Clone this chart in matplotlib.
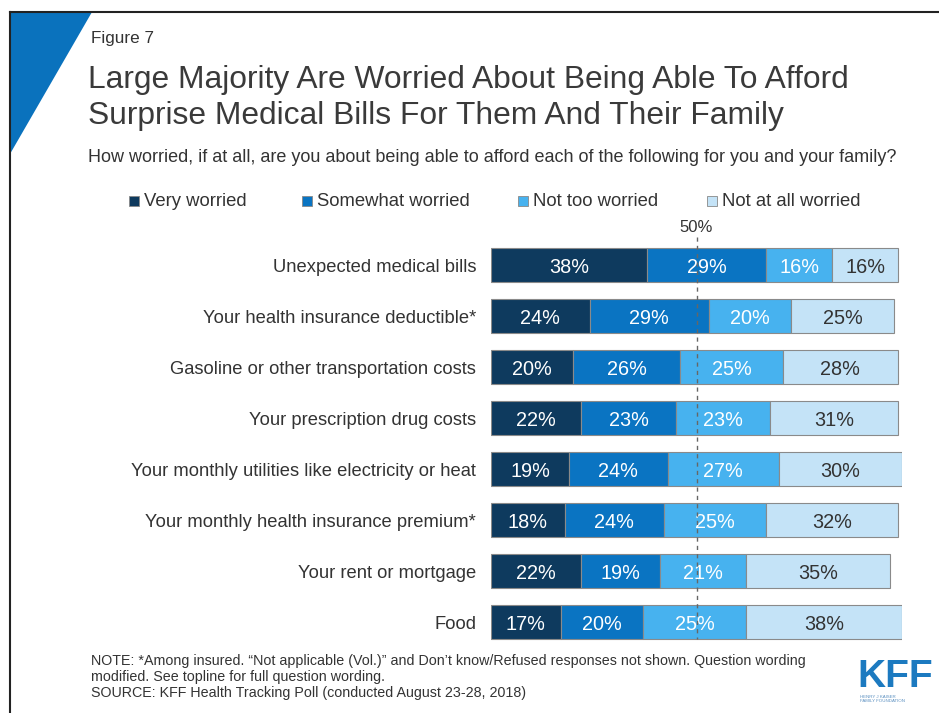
import matplotlib
matplotlib.use("Agg")
import matplotlib.pyplot as plt
from matplotlib.patches import Rectangle, Polygon
from matplotlib.lines import Line2D

plt.rcParams['font.family'] = ['Liberation Sans', 'DejaVu Sans']

categories = [
    "Unexpected medical bills",
    "Your health insurance deductible*",
    "Gasoline or other transportation costs",
    "Your prescription drug costs",
    "Your monthly utilities like electricity or heat",
    "Your monthly health insurance premium*",
    "Your rent or mortgage",
    "Food",
]
series_names = ["Very worried", "Somewhat worried", "Not too worried", "Not at all worried"]
very_worried = [38, 24, 20, 22, 19, 18, 22, 17]
somewhat_worried = [29, 29, 26, 23, 24, 24, 19, 20]
not_too_worried = [16, 20, 25, 23, 27, 25, 21, 25]
not_at_all_worried = [16, 25, 28, 31, 30, 32, 35, 38]
series_values = [very_worried, somewhat_worried, not_too_worried, not_at_all_worried]
colors = ["#0e3a5e", "#0a74c2", "#47b2ef", "#c4e3f7"]
label_colors = ["white", "white", "white", "#333333"]
reference_line = 50

W, H = 939, 713
fig = plt.figure(figsize=(W / 100, H / 100), dpi=100)

def fx(px):
    return px / W

def fy(py):
    return 1 - py / H

# frame lines and corner triangle
fig.add_artist(Line2D([fx(10), fx(939)], [fy(12), fy(12)], color="#222222", lw=1.5, transform=fig.transFigure))
fig.add_artist(Line2D([fx(10), fx(10)], [fy(12), fy(713)], color="#222222", lw=1.5, transform=fig.transFigure))
fig.add_artist(Polygon([(fx(10), fy(12)), (fx(92), fy(12)), (fx(10), fy(154))], closed=True,
                       facecolor="#0a72bd", edgecolor="none", transform=fig.transFigure))

text_col = "#333333"
fig.text(fx(91), fy(39), "Figure 7", fontsize=12.3, color=text_col, va="center", ha="left")
fig.text(fx(88), fy(80), "Large Majority Are Worried About Being Able To Afford", fontsize=22.9,
         color="#3a3a3a", va="center", ha="left")
fig.text(fx(88), fy(116), "Surprise Medical Bills For Them And Their Family", fontsize=22.9,
         color="#3a3a3a", va="center", ha="left")
fig.text(fx(88), fy(157), "How worried, if at all, are you about being able to afford each of the following for you and your family?",
         fontsize=13, color=text_col, va="center", ha="left")

# legend
legend_x = [129, 302, 518, 707]
for i, name in enumerate(series_names):
    x0 = legend_x[i]
    fig.add_artist(Rectangle((fx(x0), fy(206)), 10 / W, 10 / H, facecolor=colors[i],
                             edgecolor="#888888", lw=0.6, transform=fig.transFigure))
    fig.text(fx(x0 + 15), fy(201), name, fontsize=13.3, color=text_col, va="center", ha="left")

# axes
ax = fig.add_axes([fx(491), fy(647.5), 411 / W, 408 / H])
ax.set_xlim(0, 100)
ax.set_ylim(len(categories) - 0.5, -0.5)
ax.axis("off")

ypos = list(range(len(categories)))
left = [0] * len(categories)
for s, vals in enumerate(series_values):
    ax.barh(ypos, vals, left=left, height=0.67, color=colors[s], edgecolor="#8a8a8a", linewidth=0.8)
    for j, v in enumerate(vals):
        ax.text(left[j] + v / 2, j + 0.05, f"{v}%", ha="center", va="center", fontsize=14.3,
                color=label_colors[s])
    left = [l + v for l, v in zip(left, vals)]

for j, c in enumerate(categories):
    ax.text(-3.6, j + 0.04, c, ha="right", va="center", fontsize=13.2, color=text_col)

ax.plot([reference_line, reference_line], [-0.55, len(categories) - 0.66], color="#666666",
        lw=1, ls=(0, (3, 3)), clip_on=False, zorder=5)
ax.text(reference_line, -0.58, f"{reference_line}%", ha="center", va="bottom", fontsize=12, color=text_col)

# notes
notes = [
    "NOTE: *Among insured. \u201cNot applicable (Vol.)\u201d and Don\u2019t know/Refused responses not shown. Question wording",
    "modified. See topline for full question wording.",
    "SOURCE: KFF Health Tracking Poll (conducted August 23-28, 2018)",
]
for k, line in enumerate(notes):
    fig.text(fx(91), fy(661 + 16 * k), line, fontsize=10.3, color=text_col, va="center", ha="left")

# logo
fig.text(fx(895), fy(677), "KFF", fontsize=28, fontweight="bold", color="#1c7ac0", va="center", ha="center")
fig.text(fx(860), fy(699), "HENRY J KAISER\nFAMILY FOUNDATION", fontsize=3.2, color="#5a8fc0",
         va="center", ha="left", linespacing=1.1)

fig.savefig("out.png", dpi=100)
